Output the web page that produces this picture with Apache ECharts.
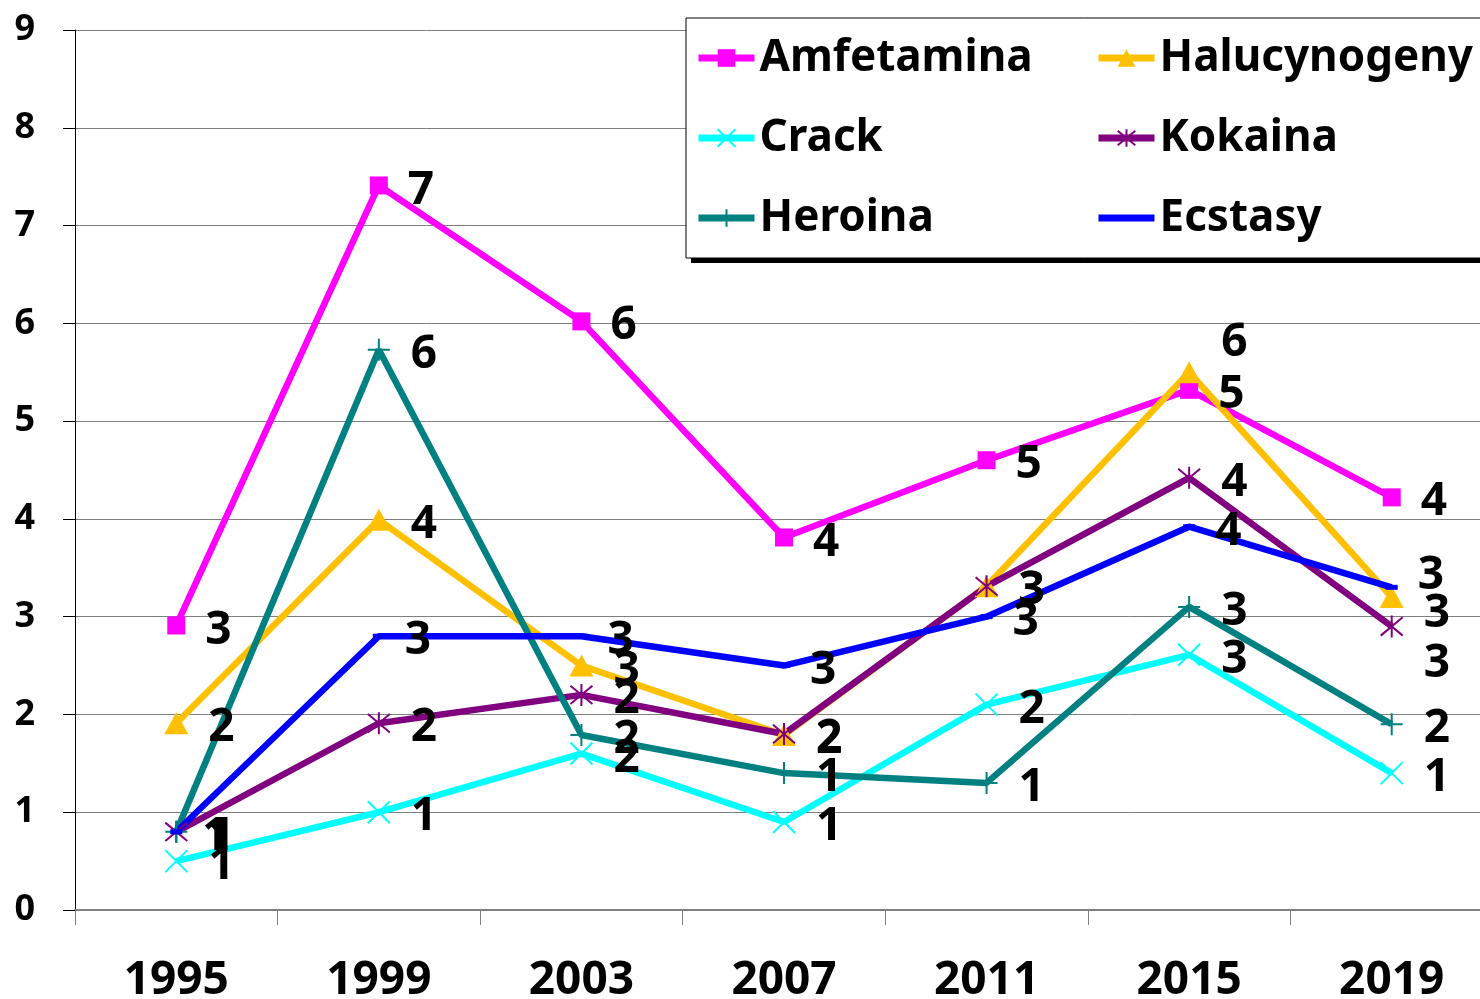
<!DOCTYPE html>
<html>
<head>
<meta charset="utf-8">
<script src="https://cdn.jsdelivr.net/npm/echarts@6/dist/echarts.min.js"></script>
<style>
  html, body { margin: 0; padding: 0; background: #fff; overflow: hidden; }
  #chart { width: 1480px; height: 999px; }
</style>
</head>
<body>
<div id="chart"></div>
<script>
var years = ['1995', '1999', '2003', '2007', '2011', '2015', '2019'];
var amfetamina = [2.91, 7.41, 6.02, 3.81, 4.6, 5.32, 4.22];
var halucynogeny = [1.91, 3.99, 2.5, 1.79, 3.31, 5.5, 3.2];
var crack = [0.5, 1.0, 1.6, 0.9, 2.1, 2.61, 1.4];
var kokaina = [0.8, 1.91, 2.2, 1.8, 3.31, 4.42, 2.9];
var heroina = [0.8, 5.73, 1.79, 1.4, 1.3, 3.1, 1.9];
var ecstasy = [0.8, 2.8, 2.8, 2.5, 3.0, 3.92, 3.3];

var FONT = '"Noto Sans", sans-serif';

// hand moved labels (series name -> index -> [dx, dy])
var labelNudge = {
    'Halucynogeny': { 5: [0, -34], 6: [0, 12] },
    'Kokaina': { 6: [0, 32] },
    'Ecstasy': { 6: [0, -16] }
};

function makeSeries(name, values, color, symbol, size, stroke) {
    var data = values.map(function (v, i) {
        var n = labelNudge[name] && labelNudge[name][i];
        if (!n) return v;
        return { value: v, label: { offset: [n[0], 5 + n[1]] } };
    });
    return {
        name: name,
        type: 'line',
        data: data,
        symbol: symbol,
        symbolSize: size,
        showAllSymbol: true,
        lineStyle: { color: color, width: 6.5 },
        itemStyle: {
            color: stroke ? 'transparent' : color,
            borderColor: color,
            borderWidth: stroke ? 2 : 0
        },
        label: {
            show: true,
            position: 'right',
            distance: 20,
            offset: [0, 5],
            color: '#000',
            fontFamily: FONT,
            fontWeight: 'bold',
            fontSize: 46,
            formatter: function (p) { return Math.round(p.value); }
        },
        emphasis: { disabled: true },
        animation: false
    };
}

var X_PATH = 'path://M0,0L10,10M10,0L0,10';
var STAR_PATH = 'path://M0,0L10,10M10,0L0,10M5,-1L5,11';
var PLUS_PATH = 'path://M5,0L5,10M0,5L10,5';

var series = [
    makeSeries('Amfetamina', amfetamina, '#FF00FF', 'rect', 18, false),
    makeSeries('Halucynogeny', halucynogeny, '#FFC000', 'triangle', [24, 22], false),
    makeSeries('Crack', crack, '#00FFFF', X_PATH, 22, true),
    makeSeries('Kokaina', kokaina, '#800080', STAR_PATH, 22, true),
    makeSeries('Heroina', heroina, '#008080', PLUS_PATH, 22, true),
    makeSeries('Ecstasy', ecstasy, '#0000FF', 'rect', [12, 5], false)
];

var legendText = { color: '#000', fontFamily: FONT, fontWeight: 'bold', fontSize: 44, lineHeight: 52 };

var chart = echarts.init(document.getElementById('chart'));
chart.setOption({
    backgroundColor: '#fff',
    animation: false,
    // plot runs a little past the right edge, as in the original
    grid: { left: 75, top: 30, width: 1418, height: 880, outerBoundsMode: 'none', containLabel: false },
    xAxis: {
        type: 'category',
        data: years,
        boundaryGap: true,
        axisLine: { lineStyle: { color: '#808080', width: 2 } },
        axisTick: { show: true, length: 15, lineStyle: { color: '#808080', width: 1 } },
        axisLabel: { color: '#000', fontFamily: FONT, fontWeight: 'bold', fontSize: 46, margin: 48 },
        splitLine: { show: false }
    },
    yAxis: {
        type: 'value',
        min: 0,
        max: 9,
        interval: 1,
        axisLine: { show: true, lineStyle: { color: '#000', width: 1 } },
        axisTick: { show: true, length: 12, lineStyle: { color: '#000' } },
        axisLabel: { color: '#000', fontFamily: FONT, fontWeight: 'bold', fontSize: 36, margin: 40 },
        splitLine: { show: true, lineStyle: { color: '#7f7f7f', width: 1 } }
    },
    graphic: [
        { type: 'rect', z: 3, shape: { x: 691, y: 257, width: 810, height: 6 }, style: { fill: '#000' } },
        { type: 'rect', z: 3, shape: { x: 686, y: 18, width: 810, height: 240 }, style: { fill: '#fff', stroke: '#000', lineWidth: 1 } }
    ],
    legend: [
        {
            data: ['Amfetamina', 'Crack', 'Heroina'],
            orient: 'vertical', left: 690, top: 27, itemGap: 28,
            itemWidth: 56, itemHeight: 22, textStyle: legendText, z: 5,
            lineStyle: { width: 7 }
        },
        {
            data: ['Halucynogeny', 'Kokaina',
                { name: 'Ecstasy', itemStyle: { color: 'transparent', borderWidth: 0 } }],
            orient: 'vertical', left: 1090, top: 27, itemGap: 28,
            itemWidth: 56, itemHeight: 22, textStyle: legendText, z: 5,
            lineStyle: { width: 7 }
        }
    ],
    series: series
});
</script>
</body>
</html>
